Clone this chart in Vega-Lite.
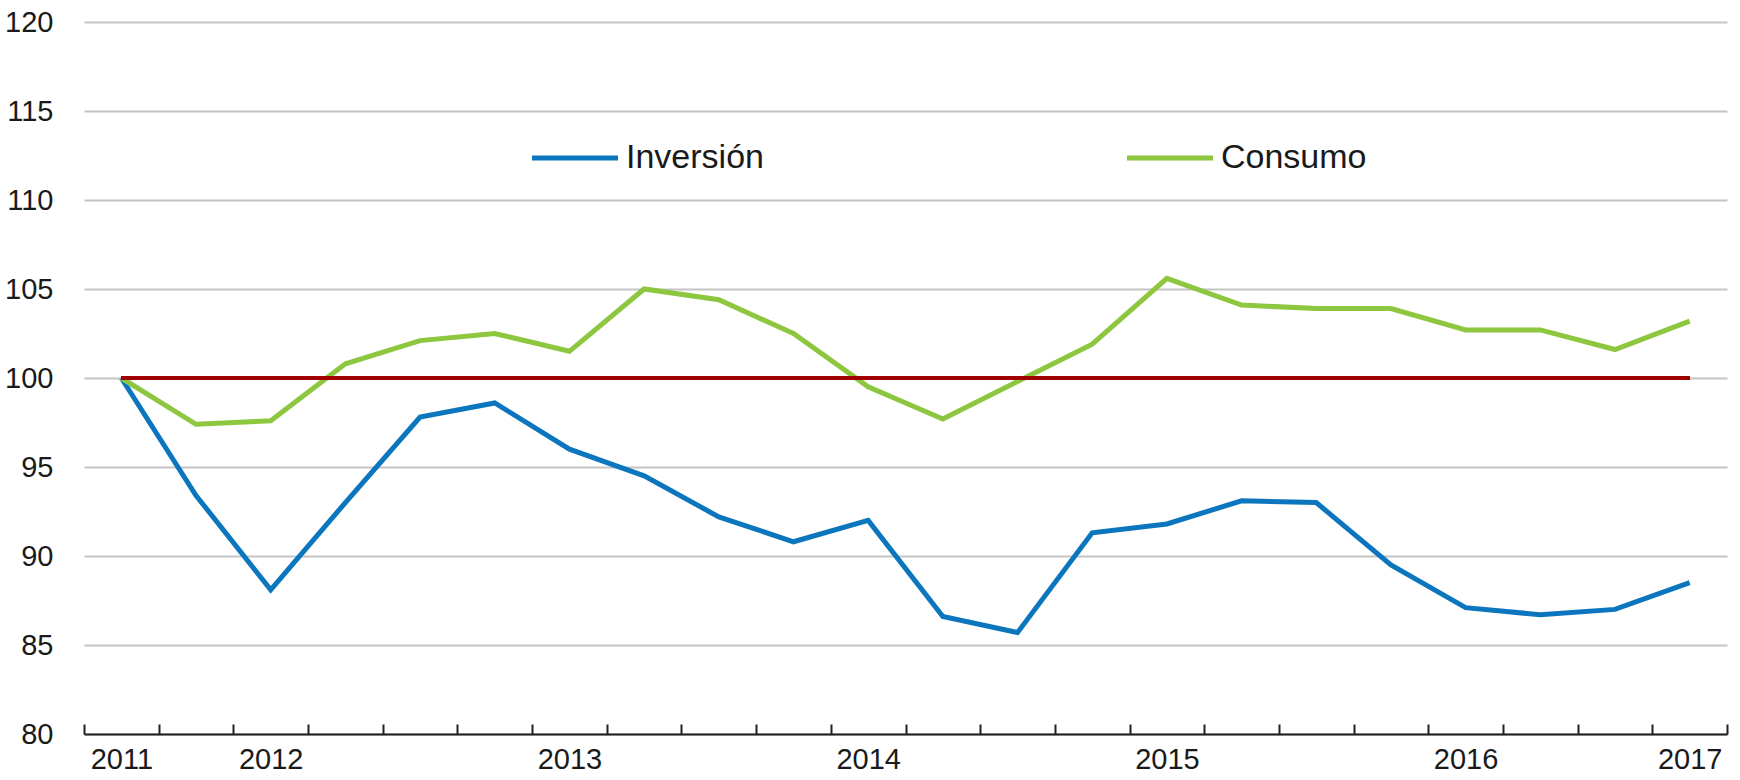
{
  "$schema": "https://vega.github.io/schema/vega-lite/v6.json",
  "width": 1643,
  "height": 712,
  "autosize": {"type": "none"},
  "padding": {"left": 84, "top": 22, "right": 13, "bottom": 46},
  "background": "white",
  "config": {"view": {"stroke": null}, "font": "Liberation Sans, Arial, sans-serif"},
  "data": {
    "values": [
      {"trimestre": 1, "serie": "Inversión", "valor": 100.0},
      {"trimestre": 2, "serie": "Inversión", "valor": 93.4},
      {"trimestre": 3, "serie": "Inversión", "valor": 88.1},
      {"trimestre": 4, "serie": "Inversión", "valor": 93.0},
      {"trimestre": 5, "serie": "Inversión", "valor": 97.8},
      {"trimestre": 6, "serie": "Inversión", "valor": 98.6},
      {"trimestre": 7, "serie": "Inversión", "valor": 96.0},
      {"trimestre": 8, "serie": "Inversión", "valor": 94.5},
      {"trimestre": 9, "serie": "Inversión", "valor": 92.2},
      {"trimestre": 10, "serie": "Inversión", "valor": 90.8},
      {"trimestre": 11, "serie": "Inversión", "valor": 92.0},
      {"trimestre": 12, "serie": "Inversión", "valor": 86.6},
      {"trimestre": 13, "serie": "Inversión", "valor": 85.7},
      {"trimestre": 14, "serie": "Inversión", "valor": 91.3},
      {"trimestre": 15, "serie": "Inversión", "valor": 91.8},
      {"trimestre": 16, "serie": "Inversión", "valor": 93.1},
      {"trimestre": 17, "serie": "Inversión", "valor": 93.0},
      {"trimestre": 18, "serie": "Inversión", "valor": 89.5},
      {"trimestre": 19, "serie": "Inversión", "valor": 87.1},
      {"trimestre": 20, "serie": "Inversión", "valor": 86.7},
      {"trimestre": 21, "serie": "Inversión", "valor": 87.0},
      {"trimestre": 22, "serie": "Inversión", "valor": 88.5},
      {"trimestre": 1, "serie": "Consumo", "valor": 100.0},
      {"trimestre": 2, "serie": "Consumo", "valor": 97.4},
      {"trimestre": 3, "serie": "Consumo", "valor": 97.6},
      {"trimestre": 4, "serie": "Consumo", "valor": 100.8},
      {"trimestre": 5, "serie": "Consumo", "valor": 102.1},
      {"trimestre": 6, "serie": "Consumo", "valor": 102.5},
      {"trimestre": 7, "serie": "Consumo", "valor": 101.5},
      {"trimestre": 8, "serie": "Consumo", "valor": 105.0},
      {"trimestre": 9, "serie": "Consumo", "valor": 104.4},
      {"trimestre": 10, "serie": "Consumo", "valor": 102.5},
      {"trimestre": 11, "serie": "Consumo", "valor": 99.5},
      {"trimestre": 12, "serie": "Consumo", "valor": 97.7},
      {"trimestre": 13, "serie": "Consumo", "valor": 99.8},
      {"trimestre": 14, "serie": "Consumo", "valor": 101.9},
      {"trimestre": 15, "serie": "Consumo", "valor": 105.6},
      {"trimestre": 16, "serie": "Consumo", "valor": 104.1},
      {"trimestre": 17, "serie": "Consumo", "valor": 103.9},
      {"trimestre": 18, "serie": "Consumo", "valor": 103.9},
      {"trimestre": 19, "serie": "Consumo", "valor": 102.7},
      {"trimestre": 20, "serie": "Consumo", "valor": 102.7},
      {"trimestre": 21, "serie": "Consumo", "valor": 101.6},
      {"trimestre": 22, "serie": "Consumo", "valor": 103.2}
    ]
  },
  "layer": [
    {
      "mark": {"type": "line", "strokeWidth": 5},
      "encoding": {
        "x": {
          "field": "trimestre",
          "type": "quantitative",
          "scale": {"domain": [0.5, 22.5], "nice": false, "zero": false},
          "axis": {
            "title": null,
            "grid": false,
            "values": [0.5, 1.5, 2.5, 3.5, 4.5, 5.5, 6.5, 7.5, 8.5, 9.5, 10.5, 11.5, 12.5, 13.5, 14.5, 15.5, 16.5, 17.5, 18.5, 19.5, 20.5, 21.5, 22.5],
            "domainColor": "#1f1f1f",
            "domainWidth": 2,
            "tickColor": "#1f1f1f",
            "tickWidth": 2,
            "tickSize": -10,
            "labelPadding": 21,
            "labelOffset": 37.34,
            "labelFlush": false,
            "labelOverlap": false,
            "labelFontSize": 29,
            "labelColor": "#1a1a1a",
            "labelExpr": "datum.value == 0.5 ? '2011' : datum.value == 2.5 ? '2012' : datum.value == 6.5 ? '2013' : datum.value == 10.5 ? '2014' : datum.value == 14.5 ? '2015' : datum.value == 18.5 ? '2016' : datum.value == 21.5 ? '2017' : ''"
          }
        },
        "y": {
          "field": "valor",
          "type": "quantitative",
          "scale": {"domain": [80, 120], "nice": false, "zero": false},
          "axis": {
            "title": null,
            "values": [80, 85, 90, 95, 100, 105, 110, 115, 120],
            "grid": true,
            "gridColor": "#C4C4C4",
            "gridWidth": 2,
            "ticks": false,
            "domain": false,
            "labelPadding": 31,
            "labelFontSize": 29,
            "labelColor": "#1a1a1a"
          }
        },
        "color": {
          "field": "serie",
          "type": "nominal",
          "scale": {"domain": ["Inversión", "Consumo"], "range": ["#0B76BE", "#8DC63F"]},
          "legend": {
            "title": null,
            "orient": "none",
            "legendX": 445,
            "legendY": 90,
            "direction": "horizontal",
            "symbolType": "stroke",
            "symbolSize": 7400,
            "symbolStrokeWidth": 5,
            "labelFontSize": 34,
            "labelOffset": 5,
            "columnPadding": 352,
            "labelColor": "#1a1a1a",
            "labelLimit": 400
          }
        }
      }
    },
    {
      "mark": {"type": "rule", "color": "#A00000", "strokeWidth": 3.5},
      "encoding": {
        "x": {"datum": 1, "type": "quantitative"},
        "x2": {"datum": 22},
        "y": {"datum": 100, "type": "quantitative"}
      }
    }
  ]
}
